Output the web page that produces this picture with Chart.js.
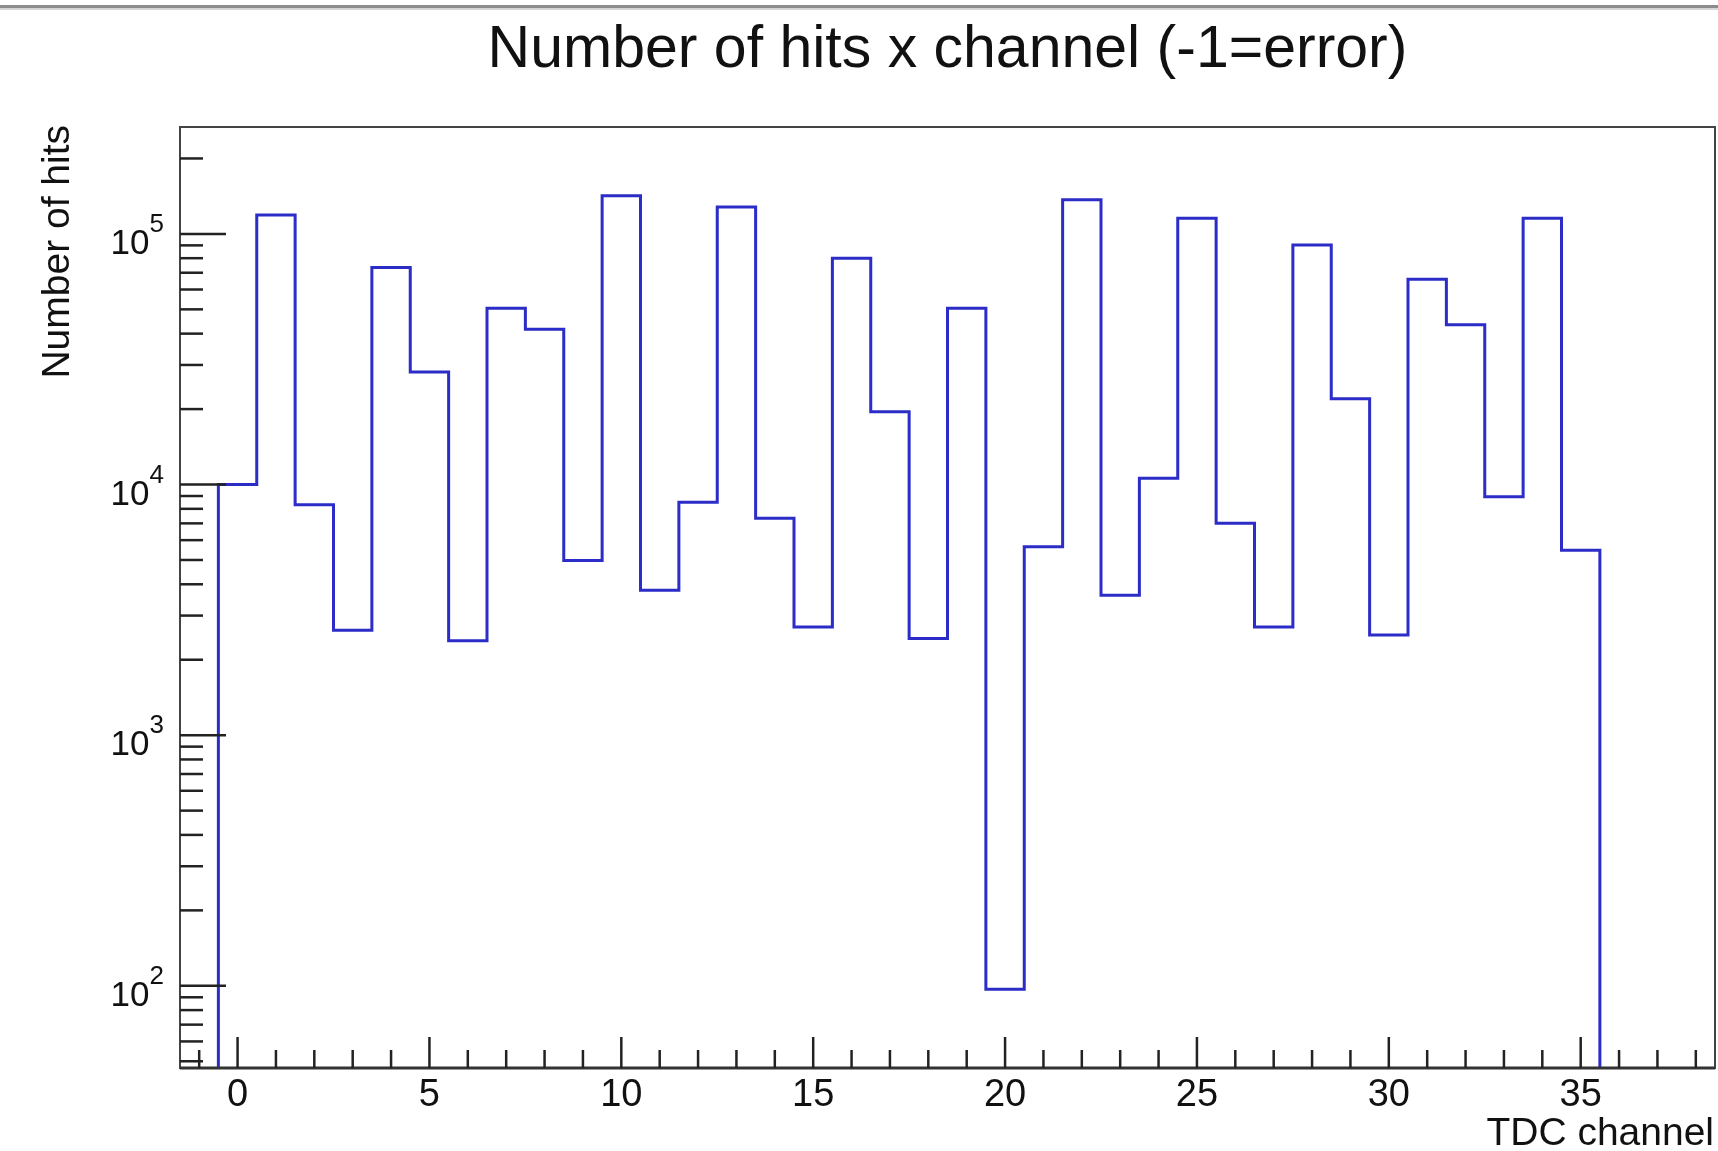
<!DOCTYPE html>
<html>
<head>
<meta charset="utf-8">
<title>Number of hits x channel</title>
<script src="https://cdn.jsdelivr.net/npm/chart.js@4.4.1/dist/chart.umd.min.js"></script>
<style>
  html, body { margin: 0; padding: 0; background: #fff; }
  #wrap { width: 1718px; height: 1151px; position: relative; }
</style>
</head>
<body>
<div id="wrap"><canvas id="hits"></canvas></div>
<script>
// counts per TDC channel (-1 = error channel, empty)
const channels = [0, 1, 2, 3, 4, 5, 6, 7, 8, 9, 10, 11, 12, 13, 14, 15, 16, 17,
                  18, 19, 20, 21, 22, 23, 24, 25, 26, 27, 28, 29, 30, 31, 32, 33, 34, 35];
const hits = [10000, 119000, 8300, 2620, 73500, 28100, 2380, 50500, 41600, 4980,
              142000, 3790, 8500, 128000, 7330, 2700, 80000, 19500, 2430, 50500,
              97, 5650, 137000, 3620, 10600, 115500, 7000, 2700, 90400, 22000,
              2510, 66000, 43400, 8930, 115500, 5470];

const xRange = [-1.5, 38.5];
const yRange = [47, 2.67e5];
const xLabelValues = [0, 5, 10, 15, 20, 25, 30, 35];
const yLabelExponents = [2, 3, 4, 5];

const titleText = "Number of hits x channel (-1=error)";
const xTitle = "TDC channel";
const yTitle = "Number of hits";

const FONT = '"Liberation Sans", Arial, Helvetica, sans-serif';
const LINE_BLUE = "#2c2cc8";

// histogram outline: a flat step across each bin, dropped to the axis minimum at both ends
function stepPoints() {
  const pts = [{ x: channels[0] - 0.5, y: yRange[0] }];
  channels.forEach((c, i) => {
    pts.push({ x: c - 0.5, y: hits[i] });
    pts.push({ x: c + 0.5, y: hits[i] });
  });
  pts.push({ x: channels[channels.length - 1] + 0.5, y: yRange[0] });
  return pts;
}

function seg(ctx, x1, y1, x2, y2) {
  ctx.beginPath();
  ctx.moveTo(x1, y1);
  ctx.lineTo(x2, y2);
  ctx.stroke();
}

// ROOT-like frame: box, inward ticks, superscript decade labels
const rootAxes = {
  id: "rootAxes",
  afterDatasetsDraw(chart) {
    const { ctx, chartArea: a, scales: { x, y } } = chart;
    ctx.save();

    ctx.strokeStyle = "#444";
    ctx.lineWidth = 2;
    ctx.strokeRect(a.left, a.top, a.right - a.left, a.bottom - a.top);
    ctx.strokeStyle = "#333";
    ctx.lineWidth = 3;
    seg(ctx, a.left, a.bottom, a.right, a.bottom);

    ctx.strokeStyle = "#222";
    ctx.lineWidth = 2.5;
    for (let v = Math.ceil(x.min); v <= Math.floor(x.max); v++) {
      const px = x.getPixelForValue(v);
      seg(ctx, px, a.bottom, px, a.bottom - (v % 5 === 0 ? 31 : 18));
    }
    const lo = Math.floor(Math.log10(y.min));
    const hi = Math.ceil(Math.log10(y.max));
    for (let e = lo; e <= hi; e++) {
      for (let m = 1; m <= 9; m++) {
        const v = m * Math.pow(10, e);
        if (v < y.min || v > y.max) continue;
        const py = y.getPixelForValue(v);
        seg(ctx, a.left, py, a.left + (m === 1 ? 46 : 23), py);
      }
    }
    ctx.restore();
  },
  afterDraw(chart) {
    const { ctx, chartArea: a, scales: { x, y } } = chart;
    ctx.save();

    // window edge along the top
    ctx.strokeStyle = "#8c8c8c";
    ctx.lineWidth = 3;
    seg(ctx, 0, 6.5, chart.width, 6.5);
    ctx.strokeStyle = "#d6d6d6";
    ctx.lineWidth = 2;
    seg(ctx, 0, 9, chart.width, 9);

    ctx.fillStyle = "#111";
    ctx.textBaseline = "alphabetic";

    ctx.font = "59px " + FONT;
    ctx.textAlign = "center";
    ctx.fillText(titleText, (a.left + a.right) / 2, 67);

    ctx.font = "38px " + FONT;
    xLabelValues.forEach(v => {
      ctx.fillText(String(v), x.getPixelForValue(v), a.bottom + 38);
    });

    ctx.font = "39px " + FONT;
    ctx.textAlign = "right";
    ctx.fillText(xTitle, a.right - 1, 1145);

    ctx.save();
    ctx.translate(69, a.top - 2);
    ctx.rotate(-Math.PI / 2);
    ctx.fillText(yTitle, 0, 0);
    ctx.restore();

    ctx.textAlign = "left";
    const right = a.left - 16;
    yLabelExponents.forEach(e => {
      const py = y.getPixelForValue(Math.pow(10, e));
      ctx.font = "26px " + FONT;
      const supW = ctx.measureText(String(e)).width;
      ctx.font = "35px " + FONT;
      const baseW = ctx.measureText("10").width;
      ctx.fillText("10", right - supW - baseW, py + 20);
      ctx.font = "26px " + FONT;
      ctx.fillText(String(e), right - supW, py - 2);
    });

    ctx.restore();
  }
};

new Chart(document.getElementById("hits"), {
  type: "line",
  data: {
    datasets: [{
      label: "hits",
      data: stepPoints(),
      borderColor: LINE_BLUE,
      borderWidth: 3,
      borderJoinStyle: "miter",
      pointRadius: 0,
      tension: 0,
      fill: false
    }]
  },
  options: {
    responsive: true,
    maintainAspectRatio: false,
    animation: false,
    events: [],
    layout: { padding: { left: 180, top: 127, right: 3, bottom: 83 } },
    plugins: { legend: { display: false }, tooltip: { enabled: false }, title: { display: false } },
    scales: {
      x: { type: "linear", min: xRange[0], max: xRange[1], display: false },
      y: { type: "logarithmic", min: yRange[0], max: yRange[1], display: false }
    }
  },
  plugins: [rootAxes]
});
</script>
</body>
</html>
